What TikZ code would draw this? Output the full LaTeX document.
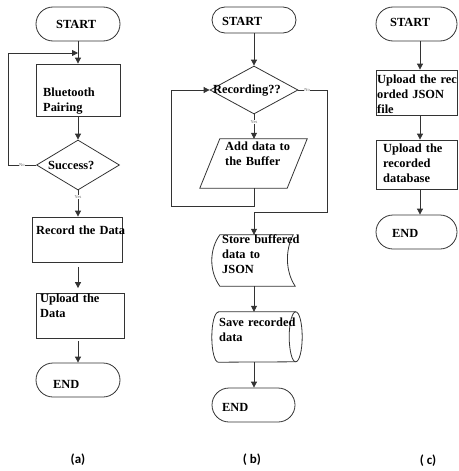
\documentclass[tikz,border=0pt]{standalone}
\usepackage{fontspec}
\setmainfont{Liberation Serif}
\newfontfamily\capfont{Carlito}
\usetikzlibrary{shapes.geometric,arrows.meta}
\begin{document}
\begin{tikzpicture}[x=1pt,y=-1pt,
 ln/.style={draw=black!80,line width=0.8pt},
 arr/.style={ln,-{Triangle[length=6pt,width=6pt]}},
 term/.style={ln,rectangle,rounded corners=17pt,minimum width=84pt,minimum height=34pt,inner sep=0pt},
 box/.style={ln,rectangle,inner sep=0pt},
 ghost/.style={rectangle,inner sep=0pt},
 dia/.style={ln,diamond,inner sep=0pt},
 txt/.style={anchor=base west,inner sep=0pt,text width=110pt,align=left,font=\bfseries\fontsize{12.4}{15}\selectfont},
 sml/.style={inner sep=0.6pt,fill=white,font=\fontsize{4.5}{4.5}\selectfont,text=black!60},
 captxt/.style={anchor=base,inner sep=0pt,font=\capfont\bfseries\fontsize{13}{15}\selectfont}
]
\useasboundingbox (0,0) rectangle (458,471);

% ---------------- (a)
\node[term] (sA) at (78,24) {};
\node[txt] (sAt) at (56,28) {START};
\node[box,minimum width=84pt,minimum height=52pt] (bp) at (78,90) {};
\node[txt] (bpt) at (43,96) {Bluetooth\\Pairing};
\node[dia,minimum width=83pt,minimum height=50pt] (sucA) at (78,165) {};
\node[txt] (suct) at (48,169) {Success?};
\node[box,minimum width=90pt,minimum height=45pt] (rec) at (77,239.5) {};
\node[txt] (rect) at (36,234) {Record the Data};
\node[box,minimum width=88pt,minimum height=45pt] (upA) at (80,315.5) {};
\node[txt] (upAt) at (40,302) {Upload the\\Data};
\node[term] (eA) at (78,380) {};
\node[txt] (eAt) at (53,388) {END};
\node[captxt] (ca) at (78,463) {(a)};

\coordinate (la) at (8,53);
\draw[arr] (sA.south) -- (bp.north);
\draw[arr] (bp.south) -- (sucA.north);
\draw[arr] (sucA.south) -- (sucA.south |- rec.north);
\draw[arr] (sucA.west) -| (la) -- (la -| sA.south);
\draw[arr,shorten <=4.5pt,shorten >=4.5pt] (rec.south -| sucA.south) -- (upA.north -| sucA.south);
\draw[arr,shorten <=3pt] (upA.south -| eA.north) -- (eA.north);
\node[sml] (noA) at (22,165) {No};
\node[sml] (yesA) at (78,197) {Yes};

% ---------------- (b)
\node[term,rounded corners=13pt,minimum height=26pt] (sB) at (254,20) {};
\node[txt] (sBt) at (222,25) {START};
\node[dia,minimum width=88pt,minimum height=48pt] (rB) at (254,90) {};
\node[ghost,minimum width=107pt,minimum height=49pt] (par) at (253.5,163.5) {};
\draw[ln] ([xshift=20pt]par.north west) -- (par.north east) -- ([xshift=-20pt]par.south east) -- (par.south west) -- cycle;
\node[txt] (part) at (225,150) {Add data to\\the Buffer};
\node[ghost,minimum width=83pt,minimum height=51pt] (st) at (253.5,260.5) {};
\draw[ln] ([xshift=8pt]st.north west) -- ([xshift=-2pt]st.north east)
  .. controls ([xshift=-10pt,yshift=-15pt]st.north east) and ([xshift=-10pt,yshift=15pt]st.south east) .. (st.south east)
  -- ([xshift=8pt]st.south west)
  .. controls ([xshift=-2.7pt,yshift=15pt]st.south west) and ([xshift=-2.7pt,yshift=-15pt]st.north west) .. cycle;
\node[txt] (stt) at (222,243) {Store buffered\\data to\\JSON};
\node[ghost,minimum width=90pt,minimum height=50pt] (sv) at (257,337) {};
\draw[ln] ([xshift=6.5pt]sv.north west) -- ([xshift=-6.5pt]sv.north east)
  arc[start angle=90,end angle=-90,x radius=6.5pt,y radius=25pt]
  -- ([xshift=6.5pt]sv.south west)
  arc[start angle=270,end angle=90,x radius=6.5pt,y radius=25pt] -- cycle;
\draw[ln] ([xshift=-6.5pt]sv.north east) arc[start angle=90,end angle=270,x radius=6.5pt,y radius=25pt];
\node[txt] (svt) at (219,326) {Save recorded\\data};
\node[term,minimum width=83pt] (eB) at (253.5,405) {};
\node[txt] (eBt) at (222,411) {END};
\node[txt] (rBt) at (213,93) {Recording??};
\node[captxt] (cb) at (252,463) {( b)};

\coordinate (lb1) at (254,206);
\coordinate (lb2) at (171,206);
\coordinate (nb1) at (327,90);
\coordinate (nb2) at (327,212);
\coordinate (nb3) at (254,212);
\draw[arr] (sB.south) -- (rB.north);
\draw[arr] (rB.south) -- (rB.south |- par.north);
\draw[arr] (rB.south |- par.south) -- (lb1) -- (lb2) |- (rB.west);
\draw[arr] (rB.east) -- (nb1) -- (nb2) -- (nb3) -- (nb3 |- st.north);
\draw[arr] (rB.south |- st.south) -- (rB.south |- sv.north);
\draw[arr] (rB.south |- sv.south) -- (rB.south |- eB.north);
\node[sml] (yesB) at (254,122) {Yes};
\node[sml] (noB) at (307,90) {No};

% ---------------- (c)
\node[term,minimum width=81pt] (sC) at (416.5,24) {};
\node[txt] (sCt) at (390,26) {START};
\node[box,minimum width=81pt,minimum height=45pt] (u1) at (416.5,92.5) {};
\node[txt] (u1t) at (377,83) {Upload the rec\\orded JSON\\file};
\node[box,minimum width=81pt,minimum height=49pt] (u2) at (416.5,164.5) {};
\node[txt] (u2t) at (383,152) {Upload the\\recorded\\database};
\node[term,minimum width=81pt] (eC) at (416.5,232) {};
\node[txt] (eCt) at (392,237) {END};
\node[captxt] (cc) at (428,464) {( c)};

\draw[arr] ([xshift=3.5pt]sC.south) -- ([xshift=3.5pt]u1.north);
\draw[arr] ([xshift=3.5pt]u1.south) -- ([xshift=3.5pt]u2.north);
\draw[arr] ([xshift=3.5pt]u2.south) -- ([xshift=3.5pt]eC.north);
\end{tikzpicture}
\end{document}
